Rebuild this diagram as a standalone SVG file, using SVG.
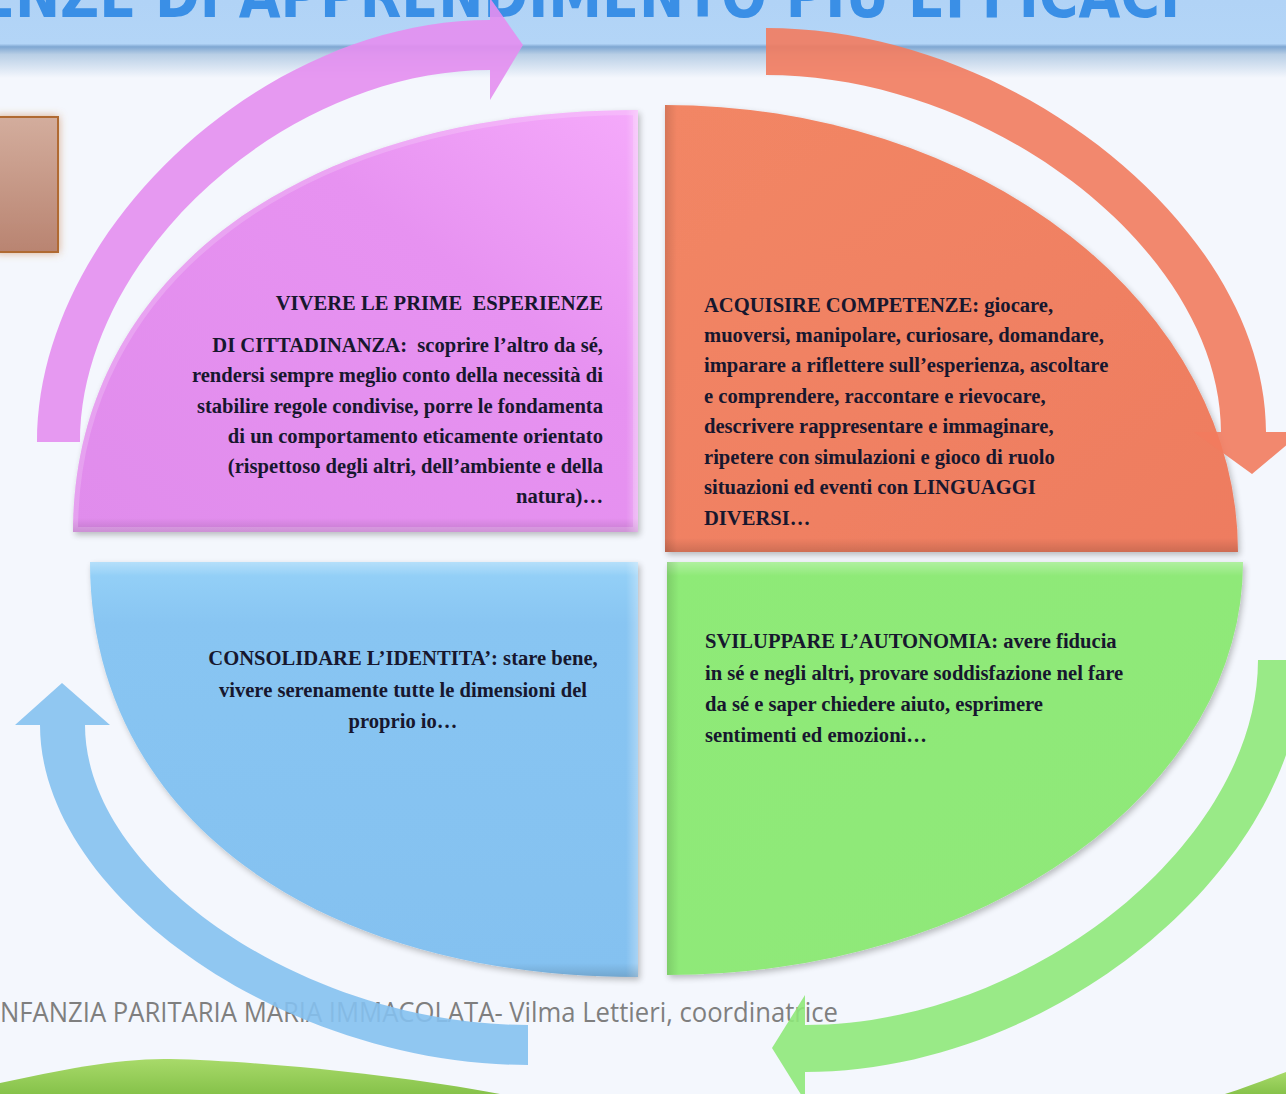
<svg xmlns="http://www.w3.org/2000/svg" width="1286" height="1094" viewBox="0 0 1286 1094">
<defs>
<style>
.t{font-family:"Liberation Serif","Times New Roman",serif;font-weight:bold;font-size:22px;fill:#17172e}
.e{text-anchor:end}
.m{text-anchor:middle}
.foot{font-family:"Open Sans","Liberation Sans",sans-serif;font-size:27px;fill:#7f7f7f}
.title{font-family:"DejaVu Sans Condensed","DejaVu Sans",sans-serif;font-weight:bold;font-size:62px;fill:#3a8fe6}
.arrow{opacity:0.9}
</style>
<linearGradient id="gBanner" x1="0" y1="0" x2="0" y2="1">
<stop offset="0" stop-color="#b1d3f6"/>
<stop offset="0.56" stop-color="#b3d5f7"/>
<stop offset="0.6" stop-color="#7fa7d2"/>
<stop offset="0.7" stop-color="#b9cfe6"/>
<stop offset="1" stop-color="#f4f7fd"/>
</linearGradient>
<linearGradient id="gPurple" x1="1" y1="0" x2="0" y2="1">
<stop offset="0" stop-color="#f5aafb"/>
<stop offset="0.35" stop-color="#e792f1"/>
<stop offset="1" stop-color="#e08cec"/>
</linearGradient>
<linearGradient id="gOrange" x1="0" y1="0" x2="1" y2="1">
<stop offset="0" stop-color="#f28665"/>
<stop offset="1" stop-color="#ee7c60"/>
</linearGradient>
<linearGradient id="gBlue" x1="0" y1="0" x2="0" y2="1">
<stop offset="0" stop-color="#96d2f8"/>
<stop offset="0.15" stop-color="#88c5f2"/>
<stop offset="1" stop-color="#84c1f0"/>
</linearGradient>
<linearGradient id="gGreen" x1="0" y1="0" x2="1" y2="1">
<stop offset="0" stop-color="#8eea77"/>
<stop offset="1" stop-color="#90e87a"/>
</linearGradient>
<linearGradient id="gBox" x1="0" y1="0" x2="0" y2="1">
<stop offset="0" stop-color="#d3ad9d"/>
<stop offset="1" stop-color="#b98471"/>
</linearGradient>
<linearGradient id="gGrass" x1="0" y1="0" x2="0" y2="1">
<stop offset="0" stop-color="#a8da6a"/>
<stop offset="1" stop-color="#86c24a"/>
</linearGradient>
<linearGradient id="bDown" x1="0" y1="0" x2="0" y2="1">
<stop offset="0" stop-color="#000" stop-opacity="0"/>
<stop offset="1" stop-color="#000" stop-opacity="0.14"/>
</linearGradient>
<linearGradient id="bUp" x1="0" y1="1" x2="0" y2="0">
<stop offset="0" stop-color="#fff" stop-opacity="0"/>
<stop offset="1" stop-color="#fff" stop-opacity="0.3"/>
</linearGradient>
<linearGradient id="bRightL" x1="0" y1="0" x2="1" y2="0">
<stop offset="0" stop-color="#fff" stop-opacity="0"/>
<stop offset="1" stop-color="#fff" stop-opacity="0.3"/>
</linearGradient>
<linearGradient id="bLeftD" x1="1" y1="0" x2="0" y2="0">
<stop offset="0" stop-color="#000" stop-opacity="0"/>
<stop offset="1" stop-color="#000" stop-opacity="0.12"/>
</linearGradient>
<clipPath id="cPurple"><path d="M638,110 L638,532 L73,532 C73,279 299,110 638,110 Z"/></clipPath>
<clipPath id="cOrange"><path d="M665,105 A573,447 0 0 1 1238,552 L665,552 Z"/></clipPath>
<clipPath id="cBlue"><path d="M90,562 L638,562 L638,977 C309,977 90,811 90,562 Z"/></clipPath>
<clipPath id="cGreen"><path d="M667,562 L1243,562 A576,413 0 0 1 667,975 Z"/></clipPath>
<filter id="shadow" x="-10%" y="-10%" width="120%" height="120%">
<feGaussianBlur in="SourceAlpha" stdDeviation="3"/>
<feOffset dx="2" dy="3"/>
<feComponentTransfer><feFuncA type="linear" slope="0.25"/></feComponentTransfer>
<feMerge><feMergeNode/><feMergeNode in="SourceGraphic"/></feMerge>
</filter>
<filter id="glow" x="-30%" y="-30%" width="160%" height="160%">
<feFlood flood-color="#c87a3e" flood-opacity="0.6"/>
<feComposite operator="in" in2="SourceAlpha"/>
<feGaussianBlur stdDeviation="4"/>
<feMerge><feMergeNode/><feMergeNode in="SourceGraphic"/></feMerge>
</filter>
</defs>

<rect width="1286" height="1094" fill="#f4f7fd"/>
<rect id="banner" x="0" y="0" width="1286" height="78" fill="url(#gBanner)"/>
<text class="title" x="-22" y="17" textLength="1202" lengthAdjust="spacingAndGlyphs">ENZE DI APPRENDIMENTO PIU EFFICACI</text>

<g id="grass">
<path d="M0,1083 C60,1070 120,1058 170,1059 C260,1061 400,1075 500,1094 L0,1094 Z" fill="url(#gGrass)"/>
<path d="M1225,1094 C1245,1088 1265,1080 1286,1072 L1286,1094 Z" fill="url(#gGrass)"/>
</g>

<text class="foot" x="0" y="1022" textLength="838" lengthAdjust="spacingAndGlyphs">NFANZIA PARITARIA MARIA IMMACOLATA- Vilma Lettieri, coordinatrice</text>

<g id="node-box" filter="url(#glow)">
<rect x="-4" y="117" width="62" height="135" fill="url(#gBox)" stroke="#b06b32" stroke-width="2"/>
</g>

<g id="node-vivere">
<path d="M638,110 L638,532 L73,532 C73,279 299,110 638,110 Z" fill="url(#gPurple)" filter="url(#shadow)"/>
<g clip-path="url(#cPurple)">
<rect x="60" y="518" width="580" height="14" fill="url(#bDown)"/>
<rect x="626" y="100" width="12" height="432" fill="url(#bRightL)"/>
<path d="M638,110 L638,532 L73,532 C73,279 299,110 638,110 Z" fill="none" stroke="#ffffff" stroke-opacity="0.18" stroke-width="10"/>
</g>
<g transform="translate(603,0) scale(0.937,1) translate(-603,0)">
<text class="t e" x="603" y="310">VIVERE LE PRIME&#160; ESPERIENZE</text>
<text class="t e" x="603" y="352">DI CITTADINANZA:&#160; scoprire l’altro da sé,</text>
<text class="t e" x="603" y="382">rendersi sempre meglio conto della necessità di</text>
<text class="t e" x="603" y="413">stabilire regole condivise, porre le fondamenta</text>
<text class="t e" x="603" y="443">di un comportamento eticamente orientato</text>
<text class="t e" x="603" y="473">(rispettoso degli altri, dell’ambiente e della</text>
<text class="t e" x="603" y="503">natura)…</text>
</g>
</g>

<g id="node-acquisire">
<path d="M665,105 A573,447 0 0 1 1238,552 L665,552 Z" fill="url(#gOrange)" filter="url(#shadow)"/>
<g clip-path="url(#cOrange)">
<rect x="660" y="538" width="590" height="14" fill="url(#bDown)"/>
<rect x="665" y="100" width="12" height="452" fill="url(#bLeftD)"/>
</g>
<g transform="translate(704,0) scale(0.937,1) translate(-704,0)">
<text class="t" x="704" y="312">ACQUISIRE COMPETENZE: giocare,</text>
<text class="t" x="704" y="342">muoversi, manipolare, curiosare, domandare,</text>
<text class="t" x="704" y="372">imparare a riflettere sull’esperienza, ascoltare</text>
<text class="t" x="704" y="403">e comprendere, raccontare e rievocare,</text>
<text class="t" x="704" y="433">descrivere rappresentare e immaginare,</text>
<text class="t" x="704" y="464">ripetere con simulazioni e gioco di ruolo</text>
<text class="t" x="704" y="494">situazioni ed eventi con LINGUAGGI</text>
<text class="t" x="704" y="525">DIVERSI…</text>
</g>
</g>

<g id="node-consolidare">
<path d="M90,562 L638,562 L638,977 C309,977 90,811 90,562 Z" fill="url(#gBlue)" filter="url(#shadow)"/>
<g clip-path="url(#cBlue)">
<rect x="80" y="562" width="560" height="14" fill="url(#bUp)"/>
<rect x="626" y="562" width="12" height="420" fill="url(#bRightL)"/>
<rect x="80" y="963" width="560" height="14" fill="url(#bDown)"/>
</g>
<g transform="translate(403,0) scale(0.937,1) translate(-403,0)">
<text class="t m" x="403" y="665">CONSOLIDARE L’IDENTITA’: stare bene,</text>
<text class="t m" x="403" y="697">vivere serenamente tutte le dimensioni del</text>
<text class="t m" x="403" y="728">proprio io…</text>
</g>
</g>

<g id="node-sviluppare">
<path d="M667,562 L1243,562 A576,413 0 0 1 667,975 Z" fill="url(#gGreen)" filter="url(#shadow)"/>
<g clip-path="url(#cGreen)">
<rect x="667" y="562" width="580" height="14" fill="url(#bUp)"/>
<rect x="667" y="562" width="12" height="420" fill="url(#bLeftD)"/>
</g>
<g transform="translate(705,0) scale(0.937,1) translate(-705,0)">
<text class="t" x="705" y="648">SVILUPPARE L’AUTONOMIA: avere fiducia</text>
<text class="t" x="705" y="680">in sé e negli altri, provare soddisfazione nel fare</text>
<text class="t" x="705" y="711">da sé e saper chiedere aiuto, esprimere</text>
<text class="t" x="705" y="742">sentimenti ed emozioni…</text>
</g>
</g>

<g id="connectors" class="arrow">
<path id="arrow-purple" d="M37,442 C37,231 263,20 490,20 L490,-2 L523,45 L490,100 L490,70 C285,70 80,256 80,442 Z" fill="#e48ef0"/>
<path id="arrow-orange" d="M766,28 C1016,28 1266,230 1266,432 L1302,432 L1252,474 L1194,432 L1221,432 C1221,253 993,75 766,75 Z" fill="#f27b5e"/>
<path id="arrow-blue" d="M528,1065 C284,1065 40,895 40,725 L15,725 L62,683 L110,725 L85,725 C85,875 306,1025 528,1025 Z" fill="#85c1ef"/>
<path id="arrow-green" d="M1303,660 C1303,866 1054,1072 805,1072 L805,1101 L772,1048 L805,995 L805,1025 C1031,1025 1258,842 1258,660 Z" fill="#8fe87a"/>
</g>
</svg>
